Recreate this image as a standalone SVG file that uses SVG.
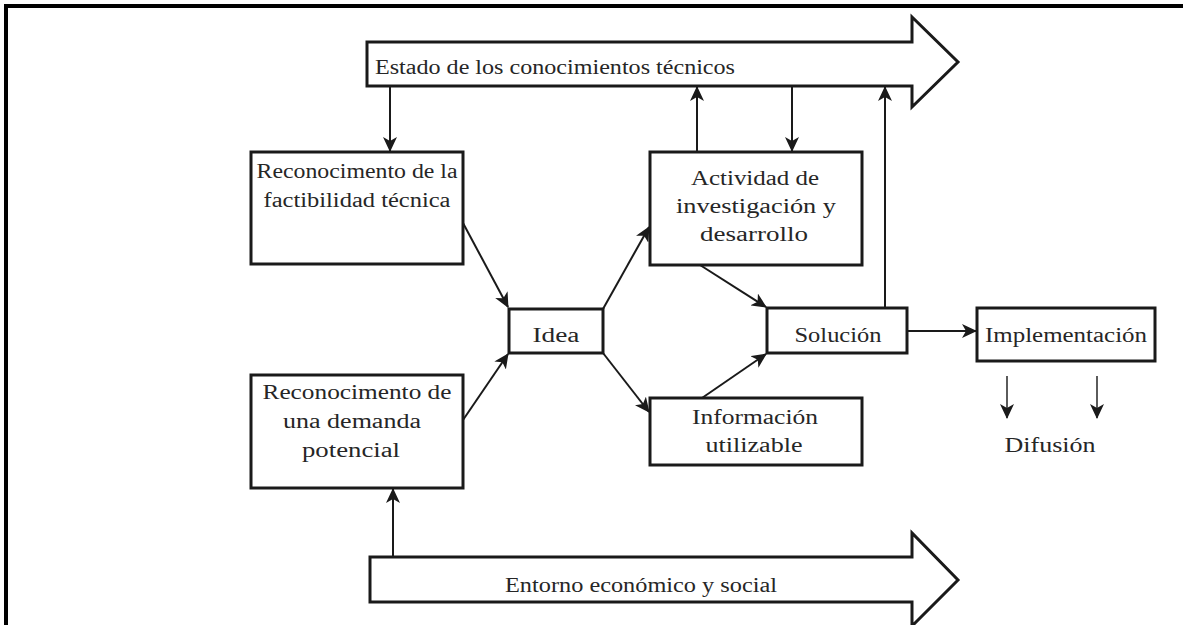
<svg xmlns="http://www.w3.org/2000/svg" width="1183" height="625" viewBox="0 0 1183 625">
  <style>
    .frame { stroke: #000; stroke-width: 4; fill: none; }
    .box { fill: #fff; stroke: #1a1a1a; stroke-width: 3; }
    .band { fill: #fff; stroke: #1a1a1a; stroke-width: 3; stroke-linejoin: miter; }
    .link { fill: none; stroke: #1a1a1a; stroke-width: 2; }
    .thin { fill: none; stroke: #333; stroke-width: 1.6; }
    .lbl { font-family: "Liberation Serif", "Times New Roman", serif; font-size: 20px; fill: #262626; }
    .mid { text-anchor: middle; }
  </style>
  <defs>
    <marker id="head" markerUnits="userSpaceOnUse" markerWidth="16" markerHeight="14" refX="14" refY="7" orient="auto">
      <path d="M0,0 L15,7 L0,14 L4,7 z" fill="#1a1a1a"/>
    </marker>
  </defs>

  <rect width="1183" height="625" fill="#fff"/>

  <!-- page frame -->
  <path class="frame" d="M6,625 V6 H1183"/>

  <!-- wide band arrows -->
  <g id="estado">
    <path class="band" d="M367,42 H912 V17 L958,62 L912,107 V86 H367 Z"/>
    <text class="lbl" x="375" y="74" textLength="360" lengthAdjust="spacingAndGlyphs">Estado de los conocimientos técnicos</text>
  </g>
  <g id="entorno">
    <path class="band" d="M370,557 H912 V533 L958,580 L912,626 V602 H370 Z"/>
    <text class="lbl mid" x="641" y="592" textLength="272" lengthAdjust="spacingAndGlyphs">Entorno económico y social</text>
  </g>

  <!-- nodes -->
  <g id="factibilidad">
    <rect class="box" x="251" y="152" width="212" height="112"/>
    <text class="lbl mid" x="357" y="178" textLength="201" lengthAdjust="spacingAndGlyphs">Reconocimento de la</text>
    <text class="lbl mid" x="357" y="207" textLength="187" lengthAdjust="spacingAndGlyphs">factibilidad técnica</text>
  </g>
  <g id="demanda">
    <rect class="box" x="251" y="375" width="212" height="113"/>
    <text class="lbl mid" x="357" y="399" textLength="189" lengthAdjust="spacingAndGlyphs">Reconocimento  de</text>
    <text class="lbl mid" x="352" y="428" textLength="138" lengthAdjust="spacingAndGlyphs">una demanda</text>
    <text class="lbl mid" x="351" y="457" textLength="98" lengthAdjust="spacingAndGlyphs">potencial</text>
  </g>
  <g id="idea">
    <rect class="box" x="509" y="309" width="94" height="44"/>
    <text class="lbl mid" x="556" y="342" textLength="47" lengthAdjust="spacingAndGlyphs">Idea</text>
  </g>
  <g id="actividad">
    <rect class="box" x="650" y="152" width="212" height="113"/>
    <text class="lbl mid" x="755" y="185" textLength="128" lengthAdjust="spacingAndGlyphs">Actividad de</text>
    <text class="lbl mid" x="756" y="213" textLength="160" lengthAdjust="spacingAndGlyphs">investigación y</text>
    <text class="lbl mid" x="754" y="241" textLength="108" lengthAdjust="spacingAndGlyphs">desarrollo</text>
  </g>
  <g id="informacion">
    <rect class="box" x="650" y="398" width="212" height="67"/>
    <text class="lbl mid" x="755" y="424" textLength="126" lengthAdjust="spacingAndGlyphs">Información</text>
    <text class="lbl mid" x="754" y="452" textLength="97" lengthAdjust="spacingAndGlyphs">utilizable</text>
  </g>
  <g id="solucion">
    <rect class="box" x="767" y="308" width="140" height="45"/>
    <text class="lbl mid" x="838" y="342" textLength="87" lengthAdjust="spacingAndGlyphs">Solución</text>
  </g>
  <g id="implementacion">
    <rect class="box" x="977" y="308" width="178" height="53"/>
    <text class="lbl mid" x="1066" y="342" textLength="162" lengthAdjust="spacingAndGlyphs">Implementación</text>
  </g>
  <g id="difusion">
    <text class="lbl mid" x="1050" y="452" textLength="91" lengthAdjust="spacingAndGlyphs">Difusión</text>
  </g>

  <!-- connectors -->
  <g id="connectors">
    <line class="link" x1="390" y1="86" x2="390" y2="151" marker-end="url(#head)"/>
    <line class="link" x1="697" y1="152" x2="697" y2="87" marker-end="url(#head)"/>
    <line class="link" x1="792" y1="86" x2="792" y2="151" marker-end="url(#head)"/>
    <polyline class="link" points="885,308 885,87" marker-end="url(#head)"/>
    <line class="link" x1="463" y1="223" x2="508" y2="307" marker-end="url(#head)"/>
    <line class="link" x1="463" y1="420" x2="508" y2="354" marker-end="url(#head)"/>
    <line class="link" x1="603" y1="309" x2="649" y2="227" marker-end="url(#head)"/>
    <line class="link" x1="603" y1="353" x2="649" y2="412" marker-end="url(#head)"/>
    <line class="link" x1="700" y1="265" x2="766" y2="307" marker-end="url(#head)"/>
    <line class="link" x1="702" y1="398" x2="766" y2="354" marker-end="url(#head)"/>
    <line class="link" x1="907" y1="331" x2="976" y2="331" marker-end="url(#head)"/>
    <line class="link" x1="393" y1="557" x2="393" y2="489" marker-end="url(#head)"/>
    <line class="thin" x1="1007" y1="376" x2="1007" y2="418" marker-end="url(#head)"/>
    <line class="thin" x1="1097" y1="376" x2="1097" y2="418" marker-end="url(#head)"/>
  </g>
</svg>
